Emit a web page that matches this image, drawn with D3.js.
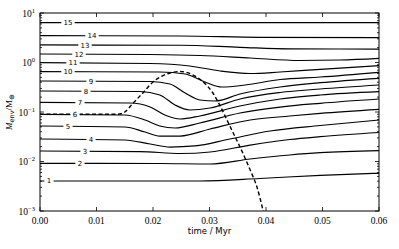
<!DOCTYPE html>
<html><head><meta charset="utf-8">
<script src="https://cdn.jsdelivr.net/npm/d3@7"></script>
<style>html,body{margin:0;padding:0;background:#fff;}svg{display:block;}</style>
</head><body>
<svg id="chart" width="399" height="249"></svg>
<script>
// ---- data ----
const curveLabels = ["1","2","3","4","5","6","7","8","9","10","11","12","13","14","15"];
const curveTimes = [
  [0,0.0283,0.0389,0.0496,0.06],
  [0,0.0212,0.0301,0.0372,0.0442,0.0496,0.06],
  [0,0.0177,0.0248,0.0301,0.0372,0.0442,0.0496,0.06],
  [0,0.015,0.0195,0.023,0.0274,0.0336,0.0407,0.0496,0.06],
  [0,0.015,0.0186,0.0212,0.0248,0.0301,0.0372,0.0442,0.0496,0.06],
  [0,0.015,0.0186,0.0212,0.0239,0.0283,0.0354,0.0425,0.0496,0.06],
  [0,0.0159,0.0195,0.0221,0.0248,0.0283,0.0354,0.0425,0.0496,0.06],
  [0,0.0177,0.0212,0.0239,0.0265,0.0301,0.0354,0.0425,0.0496,0.06],
  [0,0.0195,0.023,0.0257,0.0283,0.031,0.0354,0.0425,0.0496,0.06],
  [0,0.0212,0.0257,0.0292,0.0322,0.0363,0.0425,0.0496,0.06],
  [0,0.0195,0.0265,0.0319,0.0372,0.0425,0.0496,0.06],
  [0,0.0195,0.0283,0.0372,0.046,0.0531,0.06],
  [0,0.0248,0.0354,0.0442,0.06],
  [0,0.0248,0.0389,0.06],
  [0,0.06]
];
const curveMasses = [
  [0.00404,0.00404,0.00453,0.00526,0.00578],
  [0.0092,0.00911,0.0089,0.01123,0.01353,0.01506,0.01653],
  [0.0163,0.0159,0.0145,0.01555,0.0215,0.0278,0.0317,0.0385],
  [0.0285,0.0272,0.0226,0.0196,0.0206,0.0285,0.0413,0.0534,0.0689],
  [0.0522,0.0498,0.0394,0.0327,0.0327,0.0454,0.0689,0.083,0.0941,0.1134],
  [0.0899,0.087,0.0689,0.0522,0.0475,0.0599,0.0954,0.126,0.150,0.183],
  [0.157,0.152,0.126,0.087,0.0722,0.083,0.1322,0.183,0.2205,0.257],
  [0.2655,0.2595,0.2205,0.1385,0.1098,0.1205,0.183,0.2477,0.2914,0.351],
  [0.423,0.413,0.368,0.242,0.175,0.167,0.231,0.320,0.391,0.479],
  [0.652,0.643,0.586,0.404,0.320,0.351,0.453,0.509,0.634],
  [0.991,0.954,0.850,0.673,0.599,0.643,0.729,0.862],
  [1.485,1.45,1.385,1.233,1.098,1.123,1.216],
  [2.26,2.23,2.03,1.89,1.87],
  [3.48,3.43,3.23,3.17],
  [6.37,6.40]
];
const dashTimes = [0,0.0138,0.015,0.0165,0.0182,0.02,0.0216,0.023,0.0248,0.0271,0.0289,0.0306,0.0319,0.0331,0.0342,0.0354,0.0372,0.0384,0.0395];
const dashMasses = [0.09,0.09,0.1,0.152,0.242,0.404,0.533,0.614,0.658,0.558,0.404,0.242,0.132,0.0689,0.0377,0.0196,0.00673,0.00305,0.001];
const xTicks = [0,0.01,0.02,0.03,0.04,0.05,0.06];
const xTickLabels = ["0.00","0.01","0.02","0.03","0.04","0.05","0.06"];
const yTickExps = [-3,-2,-1,0,1];

// ---- layout ----
const W = 399, H = 249;
const L = 40, R = 379, T = 13, B = 211;
const svg = d3.select("#chart");
const x = d3.scaleLinear().domain([0,0.06]).range([L,R]);
const y = d3.scaleLog().domain([1e-3,1e1]).range([B,T]);

svg.append("defs").append("clipPath").attr("id","clip")
  .append("rect").attr("x",L).attr("y",T).attr("width",R-L).attr("height",B-T);

const line = d3.line().x(d=>x(d[0])).y(d=>y(d[1])).curve(d3.curveMonotoneX);
const plot = svg.append("g").attr("clip-path","url(#clip)");

curveLabels.forEach((lab,i)=>{
  const pts = curveTimes[i].map((t,j)=>[t,curveMasses[i][j]]);
  plot.append("path").datum(pts).attr("d",line)
    .attr("fill","none").attr("stroke","#000").attr("stroke-width",1.2);
});
const dpts = dashTimes.map((t,j)=>[t,dashMasses[j]]);
plot.append("path").datum(dpts).attr("d",line)
  .attr("fill","none").attr("stroke","#000").attr("stroke-width",1.4)
  .attr("stroke-dasharray","4,2.5");

// inline contour labels (x positions in pixels, layout only)
const labelPx = [49,80,85,91,68,75,80,86,91,68,73,79,85,92,68];
curveLabels.forEach((lab,i)=>{
  const t = x.invert(labelPx[i]);
  const interp = d3.scaleLinear().domain(curveTimes[i]).range(curveMasses[i].map(v=>Math.log10(v)));
  const yy = y(Math.pow(10, interp(t)));
  const w = lab.length*4.2 + 5;
  svg.append("rect").attr("x",labelPx[i]-w/2).attr("y",yy-3).attr("width",w).attr("height",6).attr("fill","#fff");
  svg.append("text").attr("x",labelPx[i]).attr("y",yy+2.5).attr("text-anchor","middle")
    .attr("font-family","DejaVu Sans, sans-serif").attr("font-size",7).attr("fill","#000").text(lab);
});

// frame
svg.append("rect").attr("x",L).attr("y",T).attr("width",R-L).attr("height",B-T)
  .attr("fill","none").attr("stroke","#000").attr("stroke-width",1);

// x ticks
const tk = svg.append("g").attr("stroke","#000").attr("stroke-width",0.8);
xTicks.forEach(v=>{
  tk.append("line").attr("x1",x(v)).attr("x2",x(v)).attr("y1",B).attr("y2",B-4);
  tk.append("line").attr("x1",x(v)).attr("x2",x(v)).attr("y1",T).attr("y2",T+4);
});
xTicks.forEach((v,i)=>{
  svg.append("text").attr("x",x(v)).attr("y",223.5).attr("text-anchor","middle")
    .attr("font-family","Liberation Serif, serif").attr("font-size",9.5).attr("fill","#000").text(xTickLabels[i]);
});
// y ticks
yTickExps.forEach(e=>{
  const v = Math.pow(10,e);
  tk.append("line").attr("x1",L).attr("x2",L+4).attr("y1",y(v)).attr("y2",y(v));
  tk.append("line").attr("x1",R).attr("x2",R-4).attr("y1",y(v)).attr("y2",y(v));
  if (e<1) for (let k=2;k<10;k++){
    const yy = y(k*v);
    tk.append("line").attr("x1",L).attr("x2",L+2).attr("y1",yy).attr("y2",yy);
    tk.append("line").attr("x1",R).attr("x2",R-2).attr("y1",yy).attr("y2",yy);
  }
  const t = svg.append("text").attr("x",35).attr("y",y(v)+3.5).attr("text-anchor","end")
    .attr("font-family","Liberation Serif, serif").attr("font-size",9.5).attr("fill","#000");
  t.append("tspan").text("10");
  t.append("tspan").attr("dy",-4).attr("font-size",6.5).text(e<0 ? "\u2212"+(-e) : String(e));
});

// axis titles
svg.append("text").attr("x",(L+R)/2).attr("y",234).attr("text-anchor","middle")
  .attr("font-family","DejaVu Sans, sans-serif").attr("font-size",8.5).attr("fill","#000").text("time / Myr");
const yl = svg.append("text").attr("transform","translate(12,112) rotate(-90)").attr("text-anchor","middle")
  .attr("font-family","Liberation Serif, serif").attr("font-size",9).attr("fill","#000");
yl.append("tspan").attr("font-style","italic").text("M");
yl.append("tspan").attr("dy",2).attr("font-size",6.5).attr("font-family","DejaVu Sans, sans-serif").text("env");
yl.append("tspan").attr("dy",-2).text("/M");
yl.append("tspan").attr("dy",2).attr("font-size",7).text("\u2295");
</script>
</body></html>
